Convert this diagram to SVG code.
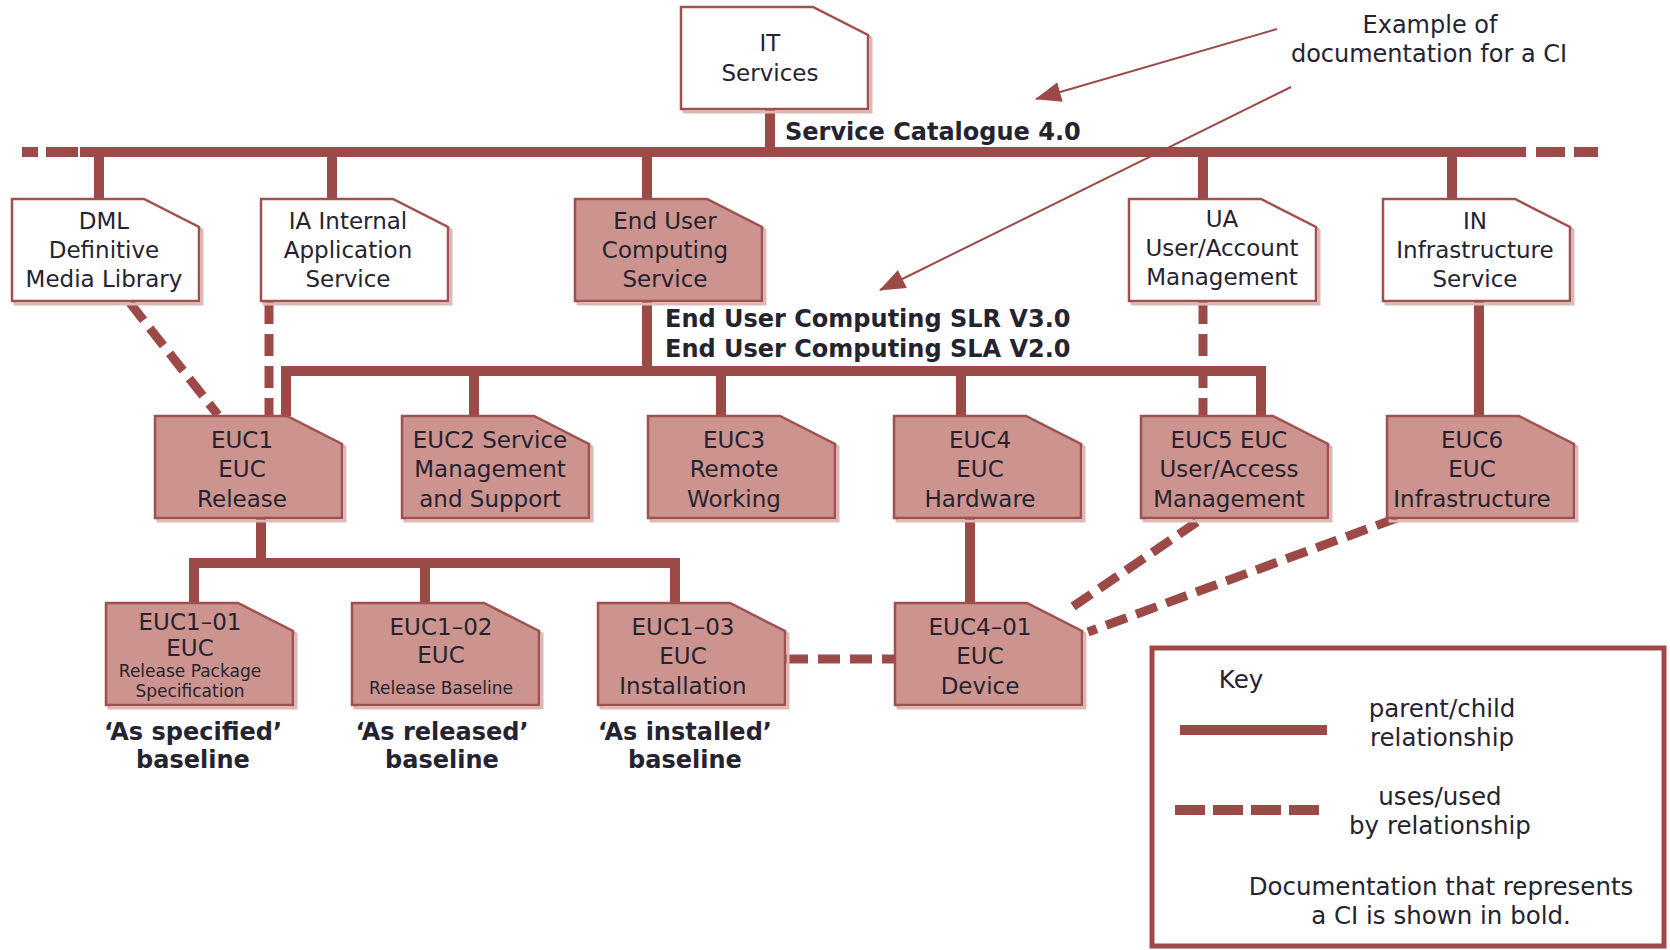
<svg xmlns="http://www.w3.org/2000/svg" width="1670" height="950" viewBox="0 0 1670 950">
  <style>
    .doc { stroke: #a0504e; stroke-width: 2.5; stroke-linejoin: miter; }
    .ci { fill: #cc938f; }
    .plain { fill: #ffffff; }
    .shadow { fill: none; stroke: #dcb9b6; stroke-width: 3; }
    .pc { fill: none; stroke: #9c4a47; stroke-width: 10; stroke-linejoin: miter; }
    .uses { fill: none; stroke: #9c4a47; stroke-width: 9; stroke-dasharray: 22 10; }
    .thin { fill: none; stroke: #9c4a47; stroke-width: 2; }
    text { font-family: "DejaVu Sans", "Liberation Sans", sans-serif; fill: #262330; }
    .lbl { font-size: 23px; text-anchor: middle; }
    .sm { font-size: 17px; text-anchor: middle; }
    .b { font-size: 24px; font-weight: bold; }
    .bc { font-size: 24px; font-weight: bold; text-anchor: middle; }
    .note { font-size: 24px; text-anchor: middle; }
    .key { font-size: 24.5px; text-anchor: middle; }
  </style>
  <defs>
    <!-- document shape with a cut top-right corner, 187 x 102 -->
    <path id="docShape" d="M0,0 H132 L187,28 V102 H0 Z"/>
    <marker id="headBig" markerWidth="26" markerHeight="20" refX="25" refY="10" orient="auto" markerUnits="userSpaceOnUse" viewBox="0 0 26 20">
      <path d="M0,0 L26,10 L0,20 Z" fill="#9c4a47"/>
    </marker>
  </defs>

  <!-- connectors -->
  <g id="connectors">
    <!-- service catalogue bus -->
    <path class="pc" d="M80,152 H1526"/>
    <path class="pc" d="M22,152 H38 M46,152 H78 M1536,152 H1565 M1574,152 H1598"/>
    <path class="pc" d="M770,108 V152"/>
    <path class="pc" d="M99,152 V199 M332,152 V199 M647,152 V199 M1203,152 V199 M1452,152 V199"/>
    <!-- end user computing bus -->
    <path class="pc" d="M647,302 V371"/>
    <path class="pc" d="M286,416 V371 H1261 V416"/>
    <path class="pc" d="M474,371 V416 M721,371 V416 M961,371 V416"/>
    <path class="pc" d="M1479,302 V416"/>
    <!-- release bus -->
    <path class="pc" d="M261,518 V563"/>
    <path class="pc" d="M194,603 V563 H675 V603"/>
    <path class="pc" d="M425,563 V603"/>
    <path class="pc" d="M970,518 V603"/>
    <!-- uses / used by -->
    <path class="uses" d="M130,303 L218,415"/>
    <path class="uses" d="M269,302 V416"/>
    <path class="uses" d="M1203,302 V416"/>
    <path class="uses" d="M786,659 H895"/>
    <path class="uses" d="M1197,522 L1065,612"/>
    <path class="uses" d="M1397,518 L1088,632"/>
    <!-- annotation pointers -->
    <path class="thin" d="M1277,29 L1036,99" marker-end="url(#headBig)"/>
    <path class="thin" d="M1291,87 L880,290" marker-end="url(#headBig)"/>
  </g>

  <!-- top level -->
  <g id="it-services" transform="translate(681,7)">
    <use href="#docShape" class="shadow" transform="translate(3,3)"/>
    <use href="#docShape" class="doc plain"/>
    <text class="lbl" x="89" y="44">IT</text>
    <text class="lbl" x="89" y="74">Services</text>
  </g>

  <text class="b" x="785" y="140">Service Catalogue 4.0</text>

  <!-- services -->
  <g id="dml" transform="translate(12,199)">
    <use href="#docShape" class="shadow" transform="translate(3,3)"/>
    <use href="#docShape" class="doc plain"/>
    <text class="lbl" x="92" y="30">DML</text>
    <text class="lbl" x="92" y="59">Definitive</text>
    <text class="lbl" x="92" y="88">Media Library</text>
  </g>
  <g id="ia" transform="translate(261,199)">
    <use href="#docShape" class="shadow" transform="translate(3,3)"/>
    <use href="#docShape" class="doc plain"/>
    <text class="lbl" x="87" y="30">IA Internal</text>
    <text class="lbl" x="87" y="59">Application</text>
    <text class="lbl" x="87" y="88">Service</text>
  </g>
  <g id="euc" transform="translate(575,199)">
    <use href="#docShape" class="shadow" transform="translate(3,3)"/>
    <use href="#docShape" class="doc ci"/>
    <text class="lbl" x="90" y="30">End User</text>
    <text class="lbl" x="90" y="59">Computing</text>
    <text class="lbl" x="90" y="88">Service</text>
  </g>
  <g id="ua" transform="translate(1129,199)">
    <use href="#docShape" class="shadow" transform="translate(3,3)"/>
    <use href="#docShape" class="doc plain"/>
    <text class="lbl" x="93" y="28">UA</text>
    <text class="lbl" x="93" y="57">User/Account</text>
    <text class="lbl" x="93" y="86">Management</text>
  </g>
  <g id="in" transform="translate(1383,199)">
    <use href="#docShape" class="shadow" transform="translate(3,3)"/>
    <use href="#docShape" class="doc plain"/>
    <text class="lbl" x="92" y="30">IN</text>
    <text class="lbl" x="92" y="59">Infrastructure</text>
    <text class="lbl" x="92" y="88">Service</text>
  </g>

  <text class="b" x="665" y="327">End User Computing SLR V3.0</text>
  <text class="b" x="665" y="357">End User Computing SLA V2.0</text>

  <!-- end user computing components -->
  <g id="euc1" transform="translate(155,416)">
    <use href="#docShape" class="shadow" transform="translate(3,3)"/>
    <use href="#docShape" class="doc ci"/>
    <text class="lbl" x="87" y="32">EUC1</text>
    <text class="lbl" x="87" y="61">EUC</text>
    <text class="lbl" x="87" y="91">Release</text>
  </g>
  <g id="euc2" transform="translate(402,416)">
    <use href="#docShape" class="shadow" transform="translate(3,3)"/>
    <use href="#docShape" class="doc ci"/>
    <text class="lbl" x="88" y="32">EUC2 Service</text>
    <text class="lbl" x="88" y="61">Management</text>
    <text class="lbl" x="88" y="91">and Support</text>
  </g>
  <g id="euc3" transform="translate(648,416)">
    <use href="#docShape" class="shadow" transform="translate(3,3)"/>
    <use href="#docShape" class="doc ci"/>
    <text class="lbl" x="86" y="32">EUC3</text>
    <text class="lbl" x="86" y="61">Remote</text>
    <text class="lbl" x="86" y="91">Working</text>
  </g>
  <g id="euc4" transform="translate(894,416)">
    <use href="#docShape" class="shadow" transform="translate(3,3)"/>
    <use href="#docShape" class="doc ci"/>
    <text class="lbl" x="86" y="32">EUC4</text>
    <text class="lbl" x="86" y="61">EUC</text>
    <text class="lbl" x="86" y="91">Hardware</text>
  </g>
  <g id="euc5" transform="translate(1141,416)">
    <use href="#docShape" class="shadow" transform="translate(3,3)"/>
    <use href="#docShape" class="doc ci"/>
    <text class="lbl" x="88" y="32">EUC5 EUC</text>
    <text class="lbl" x="88" y="61">User/Access</text>
    <text class="lbl" x="88" y="91">Management</text>
  </g>
  <g id="euc6" transform="translate(1387,416)">
    <use href="#docShape" class="shadow" transform="translate(3,3)"/>
    <use href="#docShape" class="doc ci"/>
    <text class="lbl" x="85" y="32">EUC6</text>
    <text class="lbl" x="85" y="61">EUC</text>
    <text class="lbl" x="85" y="91">Infrastructure</text>
  </g>

  <!-- release baselines -->
  <g id="euc1-01" transform="translate(106,603)">
    <use href="#docShape" class="shadow" transform="translate(3,3)"/>
    <use href="#docShape" class="doc ci"/>
    <text class="lbl" x="84" y="27">EUC1–01</text>
    <text class="lbl" x="84" y="53">EUC</text>
    <text class="sm" x="84" y="74">Release Package</text>
    <text class="sm" x="84" y="94">Specification</text>
  </g>
  <g id="euc1-02" transform="translate(352,603)">
    <use href="#docShape" class="shadow" transform="translate(3,3)"/>
    <use href="#docShape" class="doc ci"/>
    <text class="lbl" x="89" y="32">EUC1–02</text>
    <text class="lbl" x="89" y="60">EUC</text>
    <text class="sm" x="89" y="91">Release Baseline</text>
  </g>
  <g id="euc1-03" transform="translate(598,603)">
    <use href="#docShape" class="shadow" transform="translate(3,3)"/>
    <use href="#docShape" class="doc ci"/>
    <text class="lbl" x="85" y="32">EUC1–03</text>
    <text class="lbl" x="85" y="61">EUC</text>
    <text class="lbl" x="85" y="91">Installation</text>
  </g>
  <g id="euc4-01" transform="translate(895,603)">
    <use href="#docShape" class="shadow" transform="translate(3,3)"/>
    <use href="#docShape" class="doc ci"/>
    <text class="lbl" x="85" y="32">EUC4–01</text>
    <text class="lbl" x="85" y="61">EUC</text>
    <text class="lbl" x="85" y="91">Device</text>
  </g>

  <g id="baseline-labels">
    <text class="bc" x="193" y="740">‘As specified’</text>
    <text class="bc" x="193" y="768">baseline</text>
    <text class="bc" x="442" y="740">‘As released’</text>
    <text class="bc" x="442" y="768">baseline</text>
    <text class="bc" x="685" y="740">‘As installed’</text>
    <text class="bc" x="685" y="768">baseline</text>
  </g>

  <g id="annotation">
    <text class="note" x="1430" y="33">Example of</text>
    <text class="note" x="1429" y="62">documentation for a CI</text>
  </g>

  <!-- legend -->
  <g id="key">
    <rect x="1152" y="648" width="512" height="298" fill="#ffffff" stroke="#9c4a47" stroke-width="5"/>
    <text class="key" x="1241" y="688">Key</text>
    <path class="pc" d="M1180,730 H1327"/>
    <text class="key" x="1442" y="717">parent/child</text>
    <text class="key" x="1442" y="746">relationship</text>
    <path d="M1175,810 H1322" fill="none" stroke="#9c4a47" stroke-width="10" stroke-dasharray="30 8"/>
    <text class="key" x="1440" y="805">uses/used</text>
    <text class="key" x="1440" y="834">by relationship</text>
    <text class="key" x="1441" y="895">Documentation that represents</text>
    <text class="key" x="1441" y="924">a CI is shown in bold.</text>
  </g>
</svg>
